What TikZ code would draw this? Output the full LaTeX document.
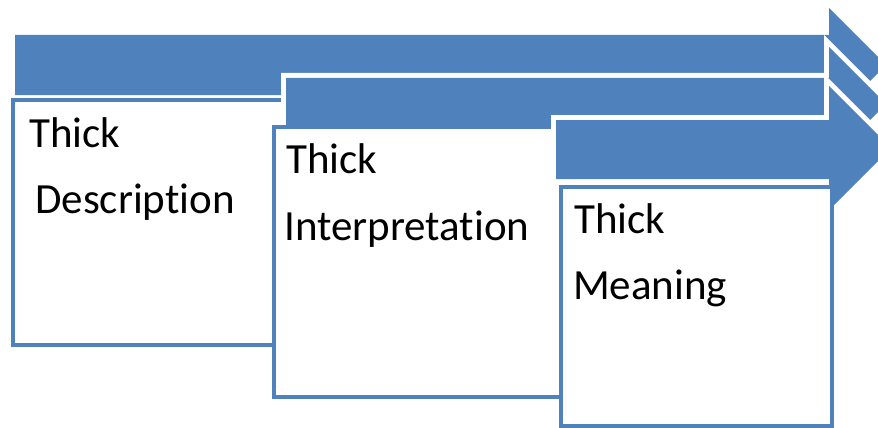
\documentclass[tikz,border=0pt]{standalone}
\usepackage{fontspec}
\setmainfont{Carlito}[RawFeature={-liga;-clig}]
\definecolor{accent}{HTML}{4F81BD}
\tikzset{
  % blue step arrow with a white rim outside its edge
  steparrow/.style={fill=accent, preaction={draw=white, line width=10pt, line join=miter}},
  % white text panel with a blue frame
  panel/.style={fill=white, draw=accent, line width=4pt, line join=miter},
  label/.style={anchor=base west, inner sep=0pt, font=\fontsize{43}{50}\selectfont, text=black}
}
\begin{document}
\begin{tikzpicture}[x=1pt,y=-1pt]
  \useasboundingbox (0,0) rectangle (878,428);

  % first step
  \path[steparrow] (15,35) -- (829,35) -- (829,8) -- (886,65) -- (829,122) -- (829,95) -- (15,95) -- cycle;
  \path[panel] (13,100) rectangle (560,345);
  \node[label] (t1a) at (29,147) {Thick};
  \node[label] (t1b) at (35,213) {Description};

  % second step
  \path[steparrow] (286,78) -- (829,78) -- (829,47) -- (886,104) -- (829,161) -- (829,128) -- (286,128) -- cycle;
  \path[panel] (274,127) rectangle (832,396.5);
  \node[label] (t2a) at (286,173) {Thick};
  \node[label] (t2b) at (284,240) {Interpretation};

  % third step
  \path[steparrow] (556,120) -- (829,120) -- (829,86) -- (891,148) -- (829,210) -- (829,179) -- (556,179) -- cycle;
  \path[panel] (561,187) rectangle (832,425.5);
  \node[label] (t3a) at (574,233) {Thick};
  \node[label] (t3b) at (573,299) {Meaning};
\end{tikzpicture}
\end{document}
